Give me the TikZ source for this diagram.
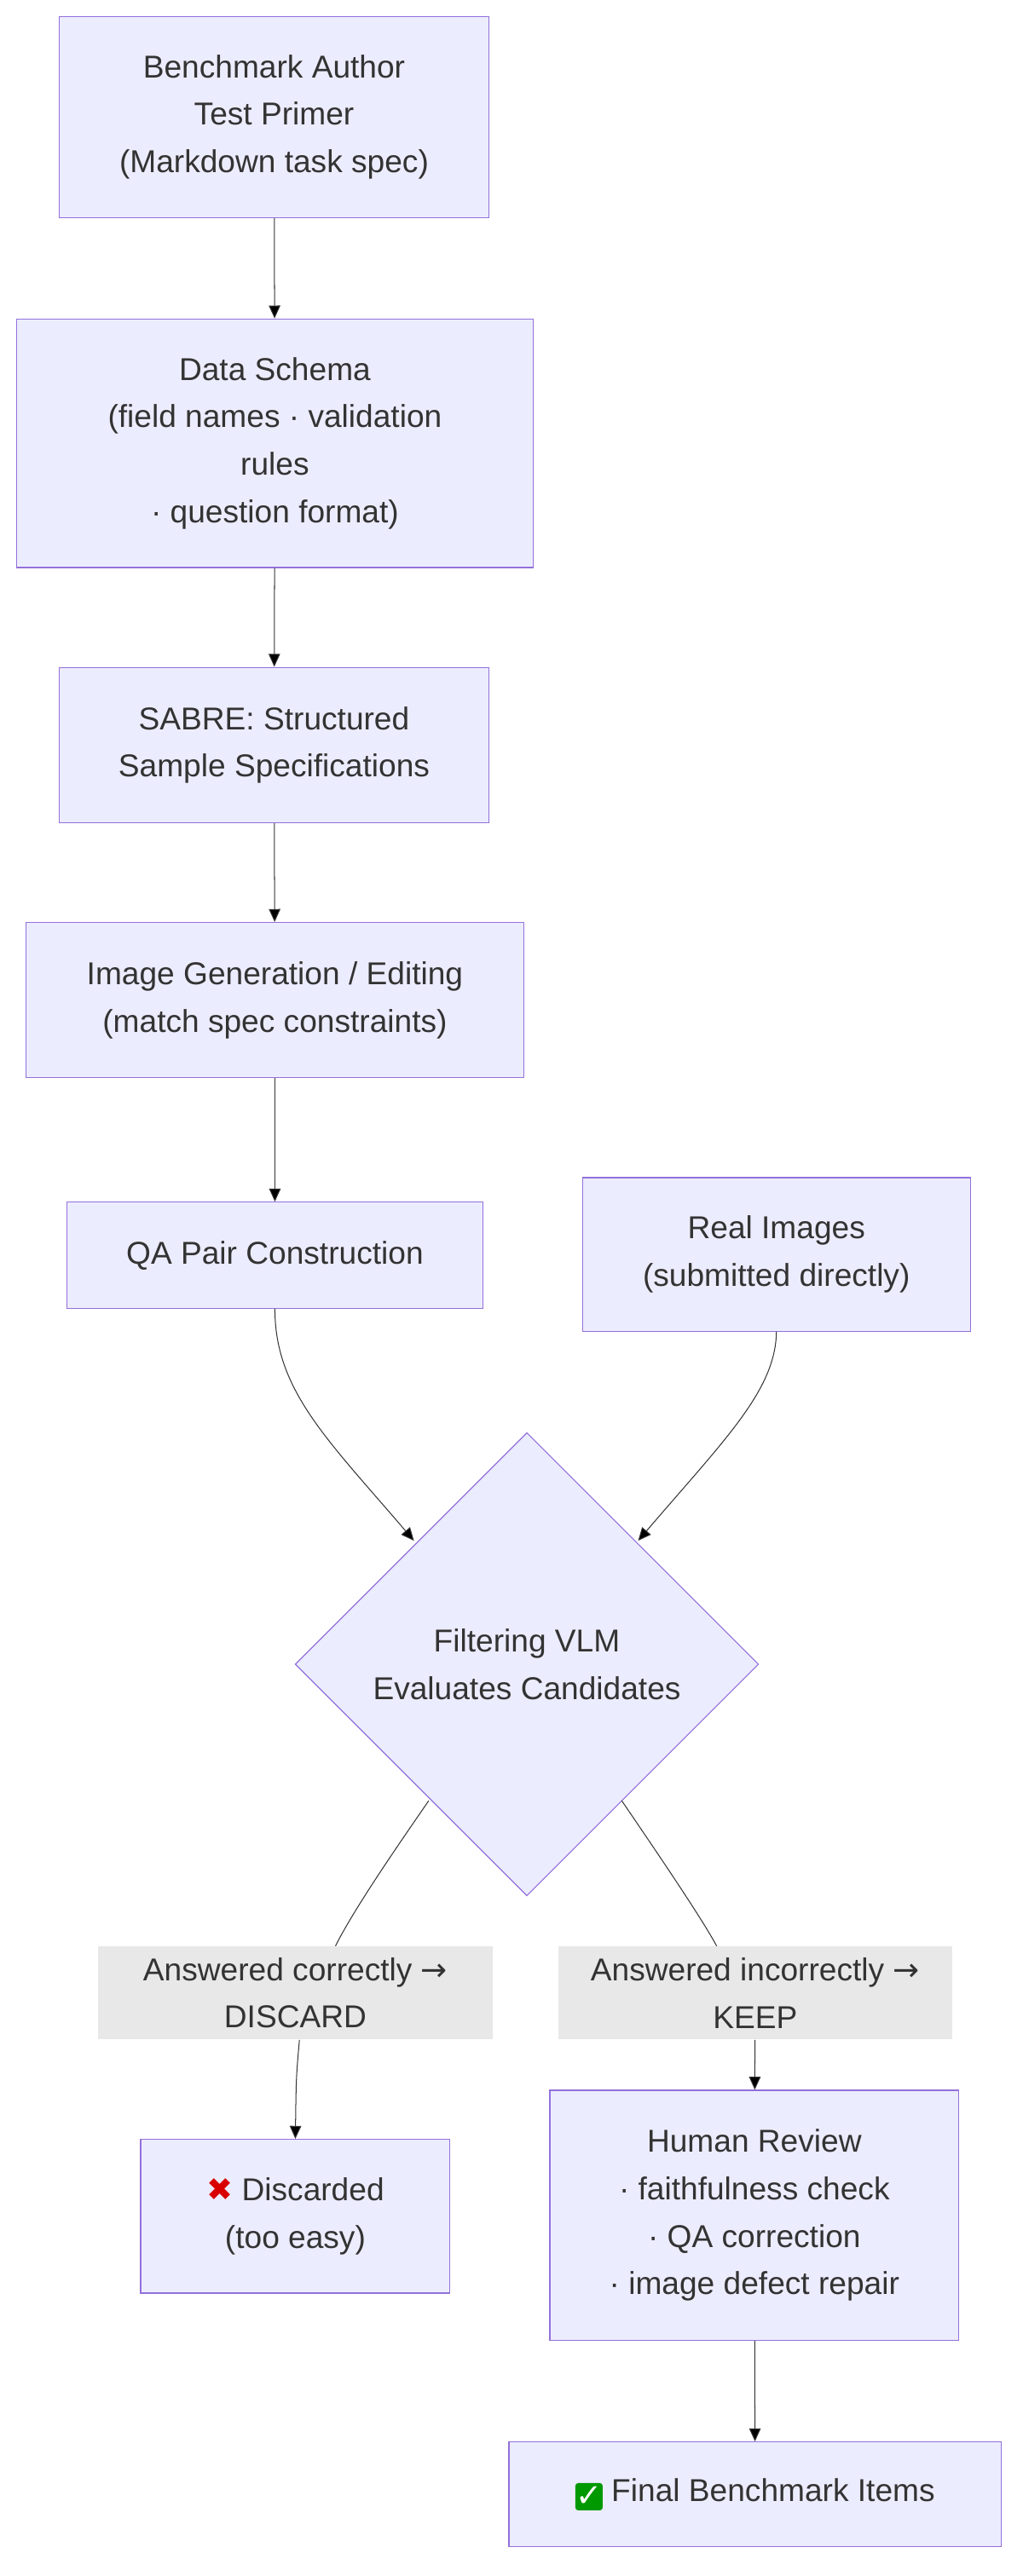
\documentclass[tikz,border=0pt]{standalone}
\usepackage{fontspec}
\setmainfont{Liberation Sans}
\newfontfamily\dejavu{DejaVu Sans}
\usetikzlibrary{shapes.geometric,arrows.meta}
\definecolor{nfill}{HTML}{ECECFF}
\definecolor{nline}{HTML}{9370DB}
\definecolor{lbg}{HTML}{E8E8E8}
\definecolor{txt}{HTML}{333333}
\begin{document}
\begin{tikzpicture}[x=0.04cm,y=-0.04cm,
  every node/.style={text=txt,font=\fontsize{22}{33}\selectfont,align=center,inner sep=0pt},
  box/.style={draw=nline,fill=nfill,line width=0.7pt},
  lbl/.style={fill=lbg},
  arr/.style={draw=txt,line width=0.6pt,-{Triangle[length=9pt,width=8pt]}},
  ln/.style={draw=txt,line width=0.6pt}]
\useasboundingbox (0,0) rectangle (625,1575);
\path[fill=white] (0,0) rectangle (625,1575);
\node[box,minimum width=263*0.04cm,minimum height=123*0.04cm] (a) at (167.5,71.5) {Benchmark Author\\Test Primer\\(Markdown task spec)};
\node[box,minimum width=316*0.04cm,minimum height=152*0.04cm] (b) at (168,271) {Data Schema\\(field names · validation\\rules\\· question format)};
\node[box,minimum width=263*0.04cm,minimum height=95*0.04cm] (c) at (167.5,455.5) {SABRE: Structured\\Sample Specifications};
\node[box,minimum width=304*0.04cm,minimum height=95*0.04cm] (d) at (168,611.5) {Image Generation / Editing\\(match spec constraints)};
\node[box,minimum width=254*0.04cm,minimum height=65*0.04cm] (e) at (168,767.5) {QA Pair Construction};
\node[box,minimum width=237*0.04cm,minimum height=94*0.04cm] (f) at (474.5,767) {Real Images\\(submitted directly)};
\draw[box] (322,876) -- (463.5,1017.5) -- (322,1159) -- (180.5,1017.5) -- cycle;
\node (g) at (322,1017.5) {Filtering VLM\\Evaluates Candidates};
\node[lbl,minimum width=241*0.04cm,minimum height=57*0.04cm] (h) at (180.5,1218.5) {Answered correctly {\dejavu →}\\DISCARD};
\node[lbl,minimum width=241*0.04cm,minimum height=57*0.04cm] (i) at (461.5,1218.5) {Answered incorrectly {\dejavu →}\\KEEP};
\node[box,minimum width=189*0.04cm,minimum height=94*0.04cm] (j) at (180.5,1355) {{\dejavu\color{red!85!black}✖} Discarded\\(too easy)};
\node[box,minimum width=250*0.04cm,minimum height=153*0.04cm] (k) at (461,1354.5) {Human Review\\· faithfulness check\\· QA correction\\· image defect repair};
\node[box,minimum width=301*0.04cm,minimum height=64*0.04cm] (l) at (461.5,1525) {\tikz[baseline=-3pt]\node[fill=green!60!black,rounded corners=2pt,minimum size=19pt,inner sep=0pt,text=white]{\dejavu\bfseries ✓};\ Final Benchmark Items};
\coordinate (g1) at (253,942);
\coordinate (g2) at (390,942);
\coordinate (g3) at (262,1101);
\coordinate (g4) at (380,1101);
\draw[arr] (a) -- (b);
\draw[arr] (b) -- (c);
\draw[arr] (c) -- (d);
\draw[arr] (d) -- (e);
\draw[arr] (e.south) .. controls (168,850) and (200,880) .. (g1);
\draw[arr] (f.south) .. controls (474,850) and (443,880) .. (g2);
\draw[ln] (g3) .. controls (235,1140) and (215,1170) .. (h.north -| 205,0);
\draw[ln] (g4) .. controls (410,1145) and (430,1175) .. (i.north -| 438,0);
\draw[arr] (h.south -| 183,0) .. controls (181,1270) .. (j.north);
\draw[arr] (i) -- (k);
\draw[arr] (k) -- (l);
\end{tikzpicture}
\end{document}
